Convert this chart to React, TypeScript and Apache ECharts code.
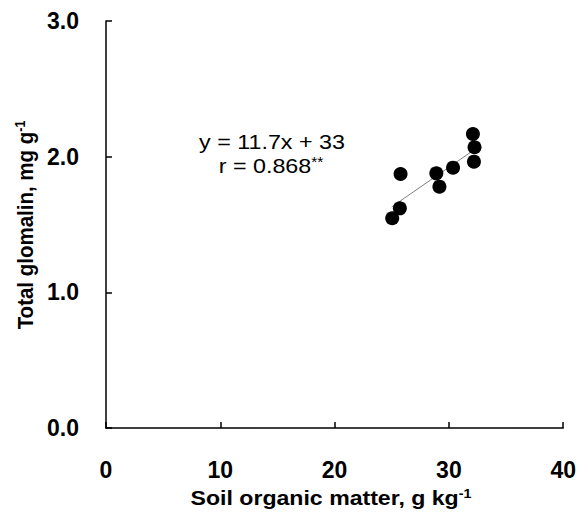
import React, { useEffect, useRef } from "react";
import * as echarts from "echarts";

const somValues = [25.04, 25.71, 25.77, 28.9, 29.17, 30.36, 32.1, 32.24, 32.19];
const glomalinValues = [1.546, 1.619, 1.872, 1.877, 1.779, 1.919, 2.167, 2.069, 1.963];
const trendLine = [
  [25.0, 1.63],
  [32.2, 2.05],
];
const xTicks = [0, 10, 20, 30, 40];
const yTicks = [0, 1, 2, 3];
const equationText = "y = 11.7x + 33";
const rText = "r = 0.868";

const FONT = "'Liberation Sans', Arial, sans-serif";

export default function App() {
  const ref = useRef<HTMLDivElement>(null);
  useEffect(() => {
    if (!ref.current) return;
    const chart = echarts.init(ref.current, null, { renderer: "svg" });
    const points = somValues.map((x, i) => [x, glomalinValues[i]]);
    chart.setOption({
      animation: false,
      backgroundColor: "#ffffff",
      grid: { left: 106, right: 14, top: 21, bottom: 84, containLabel: false },
      xAxis: {
        type: "value",
        min: xTicks[0],
        max: xTicks[xTicks.length - 1],
        interval: 10,
        axisLine: { show: true, onZero: false, lineStyle: { color: "#000", width: 1.5 } },
        axisTick: { show: true, inside: true, length: 6, lineStyle: { color: "#000", width: 1.5 } },
        axisLabel: {
          color: "#000",
          fontFamily: FONT,
          fontWeight: "bold",
          fontSize: 23,
          margin: 30,
        },
        splitLine: { show: false },
      },
      yAxis: {
        type: "value",
        min: yTicks[0],
        max: yTicks[yTicks.length - 1],
        interval: 1,
        axisLine: { show: true, onZero: false, lineStyle: { color: "#000", width: 1.5 } },
        axisTick: { show: true, inside: true, length: 6, lineStyle: { color: "#000", width: 1.5 } },
        axisLabel: {
          color: "#000",
          fontFamily: FONT,
          fontWeight: "bold",
          fontSize: 23,
          margin: 27,
          formatter: (v: number) => v.toFixed(1),
        },
        splitLine: { show: false },
      },
      series: [
        {
          type: "line",
          data: trendLine,
          symbol: "none",
          lineStyle: { color: "#7f7f7f", width: 1 },
          z: 1,
        },
        {
          type: "scatter",
          data: points,
          symbol: "circle",
          symbolSize: 14,
          itemStyle: { color: "#000", opacity: 1 },
          z: 2,
        },
      ],
      graphic: [
        {
          type: "text",
          x: 272,
          y: 142,
          scaleX: 1.11,
          style: {
            text: equationText,
            fontFamily: FONT,
            fontSize: 21,
            fill: "#000",
            align: "center",
            verticalAlign: "middle",
          },
        },
        {
          type: "text",
          x: 271,
          y: 166,
          scaleX: 1.11,
          style: {
            text: "{a|" + rText + "}{s|**}",
            fontFamily: FONT,
            fill: "#000",
            align: "center",
            verticalAlign: "middle",
            rich: {
              a: { fontFamily: FONT, fontSize: 21, fill: "#000", color: "#000" },
              s: { fontFamily: FONT, fontSize: 14, fill: "#000", color: "#000", padding: [0, 0, 8, 0] },
            },
          },
        },
        {
          type: "text",
          x: 331,
          y: 498,
          scaleX: 1.1,
          style: {
            text: "{a|Soil organic matter, g kg}{s|-1}",
            fontFamily: FONT,
            fill: "#000",
            align: "center",
            verticalAlign: "middle",
            rich: {
              a: { fontFamily: FONT, fontSize: 21, fontWeight: "bold", fill: "#000", color: "#000" },
              s: { fontFamily: FONT, fontSize: 13, fontWeight: "bold", fill: "#000", color: "#000", padding: [0, 0, 9, 0] },
            },
          },
        },
        {
          type: "text",
          x: 25,
          y: 225,
          rotation: Math.PI / 2,
          scaleY: 1.12,
          style: {
            text: "{a|Total glomalin, mg g}{s|-1}",
            fontFamily: FONT,
            fill: "#000",
            align: "center",
            verticalAlign: "middle",
            rich: {
              a: { fontFamily: FONT, fontSize: 20.5, fontWeight: "bold", fill: "#000", color: "#000" },
              s: { fontFamily: FONT, fontSize: 12.5, fontWeight: "bold", fill: "#000", color: "#000", padding: [0, 0, 9, 0] },
            },
          },
        },
      ],
    });
    return () => chart.dispose();
  }, []);
  return <div ref={ref} style={{ width: 579, height: 512, position: "absolute", left: 0, top: 0 }} />;
}
